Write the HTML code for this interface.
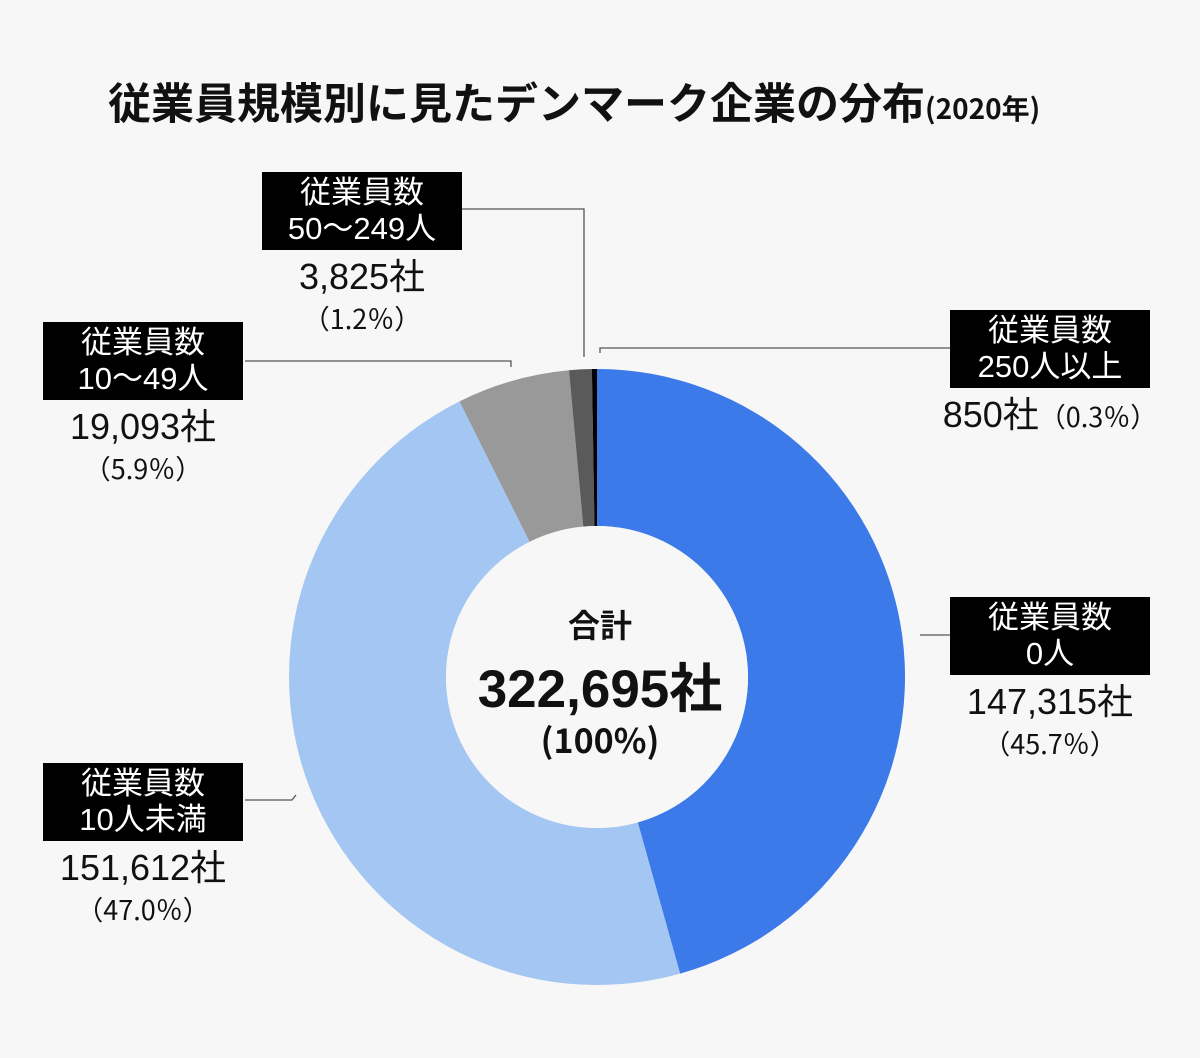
<!DOCTYPE html>
<html><head><meta charset="utf-8">
<style>
body{margin:0;background:#f7f7f7;}
svg{display:block;font-family:"Liberation Sans","Noto Sans CJK JP",sans-serif;}
</style></head>
<body>
<svg id="chart" width="1200" height="1058" viewBox="0 0 1200 1058">
<rect width="1200" height="1058" fill="#f7f7f7"/>
<text x="108" y="119" font-size="43" font-weight="bold" fill="#111" font-family="'Noto Sans CJK JP',sans-serif">従業員規模別に見たデンマーク企業の分布<tspan font-size="28">(2020年)</tspan></text>
<g id="slices"></g>
<g id="leaders" stroke="#555" stroke-width="1.3" fill="none">
<polyline points="462,209 584,209 584,357"/>
<polyline points="600,353 600,348 950,348"/>
<polyline points="245,361 511,361 511,367"/>
<polyline points="920,635 950,635"/>
<polyline points="245,800 292,800 296,795"/>
</g>
<g text-anchor="middle" fill="#111" font-weight="bold">
<text x="600" y="637" font-size="32" font-family="'Noto Sans CJK JP',sans-serif">合計</text>
<text x="600" y="707" font-size="53">322,695社</text>
<text x="600" y="753" font-size="34" font-family="'Noto Sans CJK JP',sans-serif">(100%)</text>
</g>
<g id="labels"></g>
</svg>
<script>
const categories=["従業員数\n0人","従業員数\n10人未満","従業員数\n10〜49人","従業員数\n50〜249人","従業員数\n250人以上"];
const values=[147315,151612,19093,3825,850];
const valueLabels=["147,315社","151,612社","19,093社","3,825社","850社"];
const pctLabels=["（45.7％）","（47.0％）","（5.9％）","（1.2％）","（0.3％）"];
const colors=["#3b7ae8","#a3c6f2","#999999","#5a5a5a","#000000"];
const cx=597,cy=677,R=308,r=151;
const ns="http://www.w3.org/2000/svg";
const total=values.reduce((a,b)=>a+b,0);
function pt(a,rad){return [cx+rad*Math.sin(a),cy-rad*Math.cos(a)];}
let acc=0;
const g=document.getElementById('slices');
values.forEach((v,i)=>{
  const a0=acc/total*2*Math.PI;acc+=v;const a1=acc/total*2*Math.PI;
  const lg=(a1-a0)>Math.PI?1:0;
  const p0=pt(a0,R),p1=pt(a1,R),q1=pt(a1,r),q0=pt(a0,r);
  const p=document.createElementNS(ns,'path');
  p.setAttribute('d',`M${p0}A${R},${R} 0 ${lg} 1 ${p1}L${q1}A${r},${r} 0 ${lg} 0 ${q0}Z`);
  p.setAttribute('fill',colors[i]);
  
  
  g.appendChild(p);
});
const c=document.createElementNS(ns,'circle');
c.setAttribute('cx',cx);c.setAttribute('cy',cy);c.setAttribute('r',r);c.setAttribute('fill','#f7f7f7');
g.appendChild(c);
const lay=[[950,597,200,1050,0],[43,763,200,143,0],[43,322,200,143,0],[262,172,200,362,0],[950,310,200,1050,1]];
const L=document.getElementById('labels');
categories.forEach((cat,i)=>{
  const [bx,by,bw,tx,inl]=lay[i];
  const grp=document.createElementNS(ns,'g');
  
  
  const rc=document.createElementNS(ns,'rect');
  rc.setAttribute('x',bx);rc.setAttribute('y',by);rc.setAttribute('width',bw);rc.setAttribute('height',78);rc.setAttribute('fill','#000');
  grp.appendChild(rc);
  cat.split('\n').forEach((ln,k)=>{
    const t=document.createElementNS(ns,'text');
    t.setAttribute('x',tx);t.setAttribute('y',by+31+k*36);t.setAttribute('fill','#fff');t.setAttribute('font-size','31');t.setAttribute('text-anchor','middle');
    t.textContent=ln;grp.appendChild(t);
  });
  const t2=document.createElementNS(ns,'text');
  t2.setAttribute('x',tx);t2.setAttribute('y',by+117);t2.setAttribute('font-size','36');t2.setAttribute('text-anchor','middle');t2.setAttribute('fill','#111');
  if(inl){t2.innerHTML=valueLabels[i]+'<tspan font-size="27" font-family="Noto Sans CJK JP,sans-serif">'+pctLabels[i]+'</tspan>';grp.appendChild(t2);}
  else{
    t2.textContent=valueLabels[i];grp.appendChild(t2);
    const t3=document.createElementNS(ns,'text');
    t3.setAttribute('x',tx);t3.setAttribute('y',by+157);t3.setAttribute('font-size','27');t3.setAttribute('text-anchor','middle');t3.setAttribute('fill','#111');
    t3.setAttribute('font-family','Noto Sans CJK JP,sans-serif');
    t3.textContent=pctLabels[i];grp.appendChild(t3);
  }
  L.appendChild(grp);
});
</script>
</body></html>
